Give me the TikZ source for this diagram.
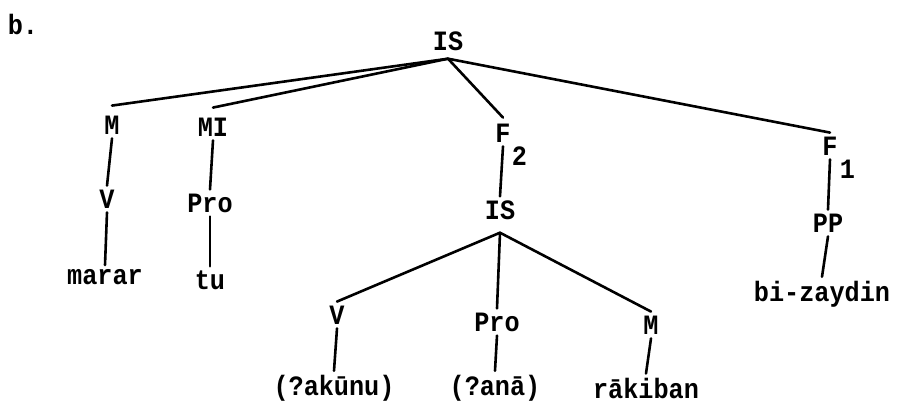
\documentclass[tikz,border=0pt]{standalone}
\usepackage{fontspec}
\newfontfamily\treefont[FakeStretch=0.9]{Liberation Mono}
\tikzset{
  lab/.style={font=\treefont\bfseries\fontsize{28}{32}\selectfont, inner sep=4pt},
  sub/.style={lab, inner sep=0pt, anchor=north west},
  edge/.style={line width=2.6pt, line cap=round}
}
\begin{document}
\begin{tikzpicture}[x=1pt,y=-1pt]
\useasboundingbox (0,0) rectangle (903,418);
% title
\node[lab] (title) at (23,24) {b.};
% top level
\node[lab] (is1) at (448,41) {IS};
\node[lab] (m1) at (112,125) {M};
\node[lab] (mi) at (213,127) {MI};
\node[lab, label={[sub, xshift=-3pt]south east:2}] (f2) at (503,133) {F};
\node[lab, label={[sub, xshift=-2pt]south east:1}] (f1) at (830,146) {F};
% left branches
\node[lab] (v1) at (107,199) {V};
\node[lab] (marar) at (105,277) {marar};
\node[lab] (pro1) at (210,203) {Pro};
\node[lab] (tu) at (210,280) {tu};
% F1 branch
\node[lab] (pp) at (828,223) {PP};
\node[lab] (biz) at (822,294) {bi-zaydin};
% F2 branch
\node[lab] (is2) at (500,210) {IS};
\node[lab] (v2) at (337,315) {V};
\node[lab] (pro2) at (497,322) {Pro};
\node[lab] (m2) at (651,325) {M};
\node[lab] (aku) at (334,388) {(?akūnu)};
\node[lab] (ana) at (495,388) {(?anā)};
\node[lab] (rak) at (646,388) {rākiban};
% connectors
\draw[edge] ([yshift=-4pt]is1.south) -- ([yshift=6pt]m1.north);
\draw[edge] ([yshift=-4pt]is1.south) -- ([yshift=6pt]mi.north);
\draw[edge] ([yshift=-4pt]is1.south) -- ([yshift=2pt]f2.north);
\draw[edge] ([yshift=-4pt]is1.south) -- (f1.north);
\draw[edge] (m1.south) -- (v1.north);
\draw[edge] (v1.south) -- (marar.north);
\draw[edge] (mi.south) -- (pro1.north);
\draw[edge] (pro1.south) -- (tu.north);
\draw[edge] (f1.south) -- (pp.north);
\draw[edge] (pp.south) -- (biz.north);
\draw[edge] (f2.south) -- (is2.north);
\draw[edge] ([yshift=-9pt]is2.south) -- (v2.north);
\draw[edge] ([yshift=-9pt]is2.south) -- (pro2.north);
\draw[edge] ([yshift=-9pt]is2.south) -- (m2.north);
\draw[edge] (v2.south) -- (aku.north);
\draw[edge] (pro2.south) -- (ana.north);
\draw[edge] (m2.south) -- (rak.north);
\end{tikzpicture}
\end{document}
